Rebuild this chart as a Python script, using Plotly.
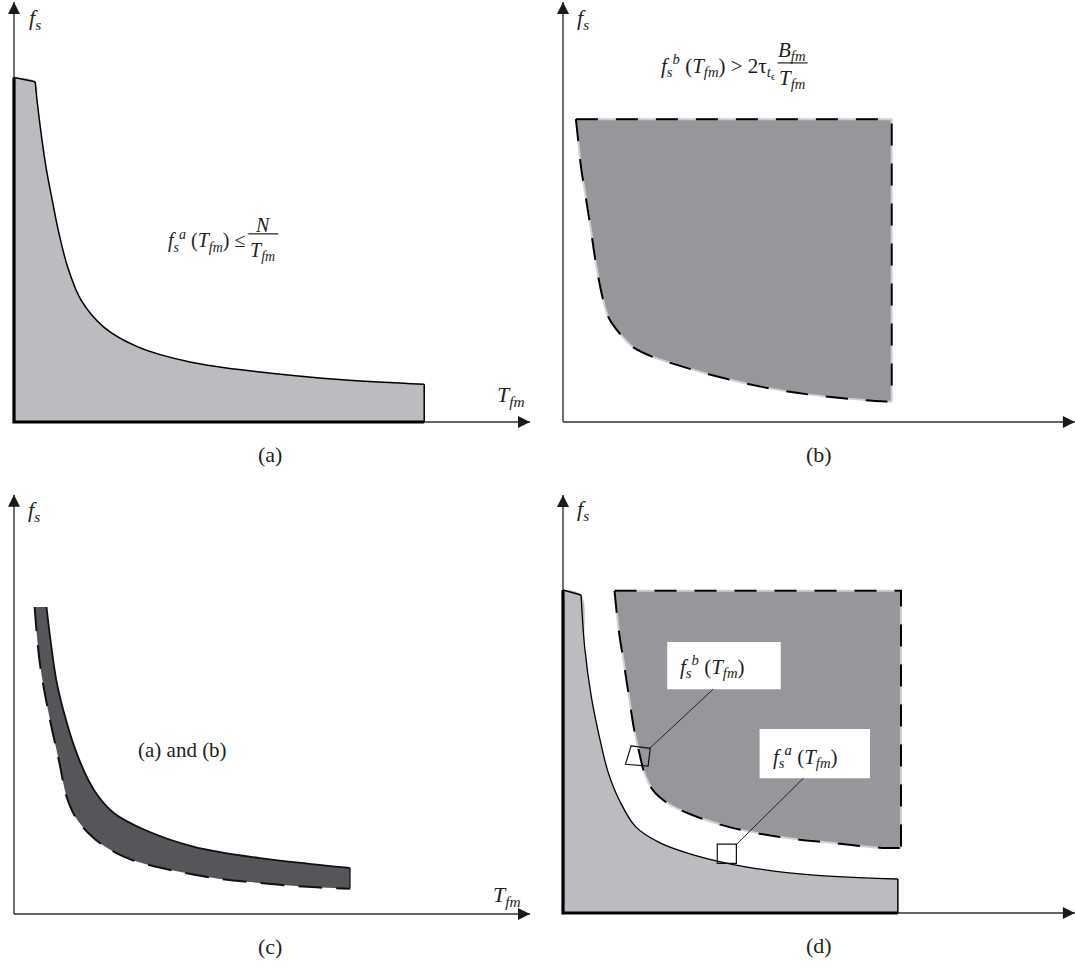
import plotly.graph_objects as go

# ---------------- data (unitless T_fm / f_s readings) ----------------
# (a) region f_s^a(T_fm) <= N/T_fm : top-left corner + curve
Ta = [0, 4.1, 4.5, 5.3, 6.2, 7.4, 8.7, 10.4, 13.0, 17.4, 24.0, 34.1, 47.7, 64.3, 79.5]
Fa = [82, 81.0, 76.2, 68.3, 60.7, 52.9, 45.0, 36.9, 29.0, 22.6, 17.9, 14.3, 11.9, 10.0, 9.0]

# (b) region f_s^b(T_fm) > 2 tau B/T : lower-left boundary curve + top level
Tb = [2.5, 2.8, 3.5, 4.5, 5.5, 6.5, 7.8, 8.8, 10.9, 13.5, 17.4, 22.1, 28.8, 38.8, 48.6, 58.7, 63.7]
Fb = [72.1, 68.8, 60.7, 52.9, 45.0, 36.9, 29.0, 25.0, 21.2, 17.9, 15.5, 13.6, 11.2, 8.3, 6.4, 5.2, 4.8]
Fb_top = 72.1

# (c) intersection band: outer (a-bound) and inner (b-bound) curves
Tc_out = [6.3, 8.2, 9.7, 11.7, 14.4, 16.4, 19.4, 25.4, 34.9, 47.7, 57.7, 65.1]
Fc_out = [73.1, 55.7, 47.9, 39.8, 31.9, 27.9, 24.0, 20.0, 16.0, 13.3, 11.9, 11.0]
Tc_in = [4.0, 5.0, 6.7, 8.8, 10.2, 11.9, 14.4, 17.7, 22.8, 37.5, 47.6, 57.7, 65.1]
Fc_in = [73.1, 59.8, 47.9, 36.0, 27.9, 23.1, 19.3, 16.0, 12.9, 8.8, 7.4, 6.4, 6.0]

# (d) both regions, disjoint
Td_a = [0, 3.5, 4.2, 5.5, 7.5, 8.8, 10.9, 14.1, 18.8, 25.4, 35.4, 48.6, 64.9]
Fd_a = [76.9, 75.7, 63.3, 51.4, 39.5, 33.3, 26.9, 20.5, 16.7, 13.8, 11.0, 9.0, 8.1]
Td_b = [10.0, 10.8, 11.8, 12.8, 13.8, 14.8, 15.8, 17.4, 20.2, 24.1, 32.1, 42.1, 52.0, 62.0, 65.5]
Fd_b = [76.7, 67.4, 59.5, 51.4, 43.6, 38.1, 33.3, 29.3, 26.2, 23.8, 20.5, 18.1, 16.7, 15.5, 15.5]
Fd_b_top = 76.7

captions = ["(a)", "(b)", "(c)", "(d)"]

# ---------------- layout helpers ----------------
W, H = 1075, 968
SX, SY = 5.16, 4.2
# pixel origin of each panel and its pixel box (left, right, top, bottom)
panels = [
    dict(x0=14, y0=422, box=(0, 537, 0, 484), xtip=100.0, ytip=100.0),
    dict(x0=563, y0=422, box=(537, 1075, 0, 484), xtip=99.2, ytip=100.0),
    dict(x0=14, y0=914, box=(0, 537, 484, 968), xtip=100.0, ytip=99.8),
    dict(x0=563, y0=913, box=(537, 1075, 484, 968), xtip=99.2, ytip=99.5),
]

LIGHT = "#bbbcc0"
MID = "#96979b"
DARK = "#545659"
FONT = "Liberation Serif"
TXT = "#231f20"
DASH = "22px,18px"

fig = go.Figure()
layout = dict(width=W, height=H, margin=dict(l=0, r=0, t=0, b=0),
              paper_bgcolor="white", plot_bgcolor="white", showlegend=False)
for i, p in enumerate(panels):
    l, r, t, b = p["box"]
    sfx = "" if i == 0 else str(i + 1)
    layout["xaxis" + sfx] = dict(domain=[l / W, r / W],
                                 range=[(l - p["x0"]) / SX, (r - p["x0"]) / SX],
                                 visible=False, fixedrange=True,
                                 anchor="y" + sfx)
    layout["yaxis" + sfx] = dict(domain=[1 - b / H, 1 - t / H],
                                 range=[(p["y0"] - b) / SY, (p["y0"] - t) / SY],
                                 visible=False, fixedrange=True,
                                 anchor="x" + sfx)
fig.update_layout(**layout)


def ax(i):
    s = "" if i == 0 else str(i + 1)
    return "x" + s, "y" + s


def line(i, x, y, color="black", width=1.5, dash="solid", shape="linear", **kw):
    xa, ya = ax(i)
    fig.add_trace(go.Scatter(x=x, y=y, xaxis=xa, yaxis=ya, mode="lines",
                             line=dict(color=color, width=width, dash=dash, shape=shape),
                             hoverinfo="skip", cliponaxis=False, **kw))


# ---------- axes (drawn first, under regions) ----------
for i, p in enumerate(panels):
    line(i, [0, p["xtip"]], [0, 0], color="#333333", width=1.4)
    line(i, [0, 0], [0, p["ytip"]], color="#333333", width=1.4)

# ---------- panel (a) ----------
line(0, Ta, Fa, color=LIGHT, width=0, shape="spline", fill="tozeroy", fillcolor=LIGHT)
line(0, Ta[:2], Fa[:2], width=1.5)
line(0, Ta[1:], Fa[1:], width=1.5, shape="spline")
line(0, [Ta[-1], Ta[-1]], [Fa[-1], 0], width=1.5)
line(0, [0, 0, Ta[-1]], [Fa[0], 0, 0], width=3.2)

# ---------- panel (b) ----------
line(1, [Tb[0], Tb[-1]], [Fb_top, Fb_top], color=MID, width=0)
line(1, Tb, Fb, color=MID, width=0, shape="spline", fill="tonexty", fillcolor=MID)
line(1, [Tb[0], Tb[-1], Tb[-1]], [Fb_top, Fb_top, Fb[-1]], color="#cfd0d2", width=2)
line(1, Tb, Fb, color="#cfd0d2", width=2, shape="spline")
line(1, [Tb[0], Tb[-1], Tb[-1]], [Fb_top, Fb_top, Fb[-1]], width=2, dash=DASH)
line(1, Tb, Fb, width=2, dash=DASH, shape="spline")

# ---------- panel (c) ----------
line(2, Tc_in, Fc_in, color=DARK, width=0, shape="spline")
line(2, Tc_out, Fc_out, color=DARK, width=0, shape="spline", fill="tonexty", fillcolor=DARK)
line(2, Tc_out, Fc_out, color="#111", width=1.8, shape="spline")
line(2, Tc_in, Fc_in, color="#111", width=2, dash="24px,14px", shape="spline")
line(2, [Tc_out[-1], Tc_in[-1]], [Fc_out[-1], Fc_in[-1]], color="#222", width=1.5)

# ---------- panel (d) ----------
line(3, Td_a, Fd_a, color=LIGHT, width=0, shape="spline", fill="tozeroy", fillcolor=LIGHT)
line(3, [Td_b[0], Td_b[-1]], [Fd_b_top, Fd_b_top], color=MID, width=0)
line(3, Td_b, Fd_b, color=MID, width=0, shape="spline", fill="tonexty", fillcolor=MID)
line(3, Td_a[:2], Fd_a[:2], width=1.5)
line(3, Td_a[1:], Fd_a[1:], width=1.3, shape="spline")
line(3, [Td_a[-1], Td_a[-1]], [Fd_a[-1], 0], width=1.5)
line(3, [0, 0, Td_a[-1]], [Fd_a[0], 0, 0], width=3.2)
line(3, [Td_b[0], Td_b[-1], Td_b[-1]], [Fd_b_top, Fd_b_top, Fd_b[-1]], color="#cfd0d2", width=2)
line(3, Td_b, Fd_b, color="#cfd0d2", width=2, shape="spline")
line(3, [Td_b[0], Td_b[-1], Td_b[-1]], [Fd_b_top, Fd_b_top, Fd_b[-1]], width=2, dash=DASH)
line(3, Td_b, Fd_b, width=2, dash=DASH, shape="spline")

# ---------- arrowheads ----------
for i, p in enumerate(panels):
    xa, ya = ax(i)
    fig.add_trace(go.Scatter(x=[p["xtip"], 0], y=[0, p["ytip"]], xaxis=xa, yaxis=ya,
                             mode="markers", cliponaxis=False, hoverinfo="skip",
                             marker=dict(symbol=["arrow-right", "arrow-up"], size=12,
                                         color="#1a1a1a", line=dict(width=0))))

annots = []


def txt(i, x, y, s, size=21, xanchor="center", yanchor="middle"):
    xa, ya = ax(i)
    annots.append(dict(x=x, y=y, xref=xa, yref=ya, text=s, showarrow=False,
                       xanchor=xanchor, yanchor=yanchor,
                       font=dict(family=FONT, size=size, color=TXT)))


FS = "<i>f</i><sub><i>s</i></sub>"
TFM = "<i>T</i><sub><i>fm</i></sub>"
for i in range(4):
    txt(i, 2.5 if i == 0 else 2.4, 96.0, FS, size=22, xanchor="left")
txt(0, 96.4, 6.2, TFM, size=22)
txt(1, 99.6, 4.6, TFM, size=22, xanchor="right")
txt(2, 95.5, 4.3, TFM, size=22)
txt(3, 99.6, 3.6, TFM, size=22, xanchor="right")
for i in range(4):
    txt(i, 49.7, -7.7, captions[i], size=22)

# formula (a)
txt(0, 45.2, 43.0, "<i>f</i><sub><i>s</i></sub><sup><i>a</i></sup> (" + TFM + ") ≤", size=20, xanchor="right")
txt(0, 48.2, 47.0, "<i>N</i>", size=20)
txt(0, 48.2, 40.7, TFM, size=20)
# formula (b)
txt(1, 41.4, 84.6, "<i>f</i><sub><i>s</i></sub><sup><i>b</i></sup> (" + TFM + ") > 2τ<sub><i>t</i><sub>ϵ</sub></sub>",
    size=21, xanchor="right")
txt(1, 44.4, 88.4, "<i>B</i><sub><i>fm</i></sub>", size=21)
txt(1, 44.4, 81.7, TFM, size=21)
# (c)
txt(2, 32.7, 39.0, "(a) and (b)", size=21)
# (d) callout labels
txt(3, 29.0, 58.6, "<i>f</i><sub><i>s</i></sub><sup><i>b</i></sup> (" + TFM + ")", size=21)
txt(3, 47.0, 37.2, "<i>f</i><sub><i>s</i></sub><sup><i>a</i></sup> (" + TFM + ")", size=21)

fig.update_layout(annotations=annots)

# ---------- shapes: fraction bars, callout boxes and leaders ----------
shapes = [
    dict(type="line", xref="x", yref="y", x0=45.4, x1=51.2, y0=44.8, y1=44.8,
         line=dict(color=TXT, width=1.2)),
    dict(type="line", xref="x2", yref="y2", x0=41.6, x1=47.4, y0=85.5, y1=85.5,
         line=dict(color=TXT, width=1.2)),
    dict(type="rect", xref="x4", yref="y4", x0=20.2, x1=42.2, y0=53.3, y1=64.5,
         fillcolor="white", line=dict(width=0), layer="above"),
    dict(type="rect", xref="x4", yref="y4", x0=38.1, x1=59.5, y0=32.1, y1=43.8,
         fillcolor="white", line=dict(width=0), layer="above"),
    dict(type="line", xref="x4", yref="y4", x0=29.1, y0=53.3, x1=16.8, y1=39.2,
         line=dict(color="#222", width=1), layer="above"),
    dict(type="line", xref="x4", yref="y4", x0=46.6, y0=32.1, x1=33.5, y1=16.2,
         line=dict(color="#222", width=1), layer="above"),
    dict(type="path", xref="x4", yref="y4",
         path="M 13.2,39.8 L 16.9,39.2 L 16.5,35.0 L 12.1,35.4 Z",
         line=dict(color="#111", width=1.2), layer="above"),
    dict(type="rect", xref="x4", yref="y4", x0=29.9, x1=33.6, y0=11.8, y1=16.4,
         line=dict(color="#111", width=1.2), layer="above"),
]
fig.update_layout(shapes=shapes)

fig.write_html("out.html", config={"displayModeBar": False},
               post_script="document.body.style.margin='0';document.body.style.overflow='hidden';")
